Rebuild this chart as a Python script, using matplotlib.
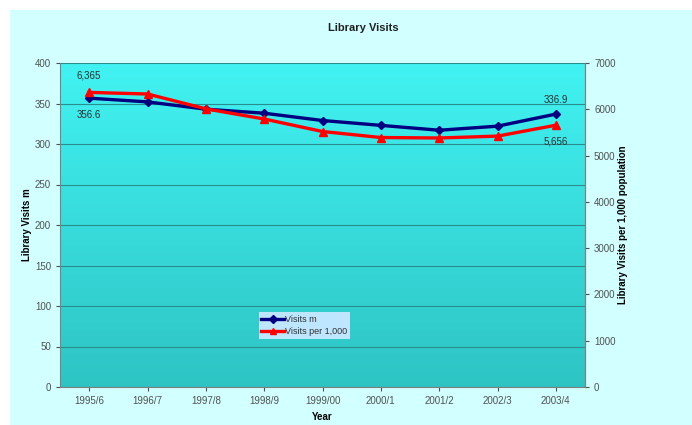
import matplotlib.pyplot as plt
import numpy as np
from matplotlib.patches import Rectangle

plt.rcParams['font.family'] = ['Liberation Sans', 'DejaVu Sans']

years = ["1995/6", "1996/7", "1997/8", "1998/9", "1999/00", "2000/1", "2001/2", "2002/3", "2003/4"]
visits_m = [356.6, 352, 343, 338, 329, 323, 317, 322, 336.9]
visits_per_1000 = [6365, 6330, 6010, 5790, 5520, 5390, 5380, 5420, 5656]

fig = plt.figure(figsize=(6.92, 4.25), dpi=100)
fig.patch.set_facecolor("white")
# pale cyan chart area
fig.patches.append(Rectangle((10 / 692, 0), 1, 1 - 10 / 425, transform=fig.transFigure,
                             facecolor="#D2FFFF", edgecolor="none", zorder=-5))

ax = fig.add_axes([60 / 692, 38 / 425, 525 / 692, 324 / 425])
x = np.arange(len(years))
ax.set_xlim(-0.5, len(years) - 0.5)
ax.set_ylim(0, 400)

# vertical gradient background
grad = np.linspace(0, 1, 256).reshape(-1, 1)
top = np.array([0x42, 0xF2, 0xF2]) / 255
bot = np.array([0x2E, 0xC4, 0xC4]) / 255
img = top + (bot - top) * grad[:, :, None]
ax.imshow(img, extent=[-0.5, len(years) - 0.5, 0, 400], aspect="auto", zorder=0)

ax.yaxis.grid(True, color="#2A8C8C", linewidth=0.8)
ax.set_axisbelow(True)
for s in ax.spines.values():
    s.set_color("#808080")
    s.set_linewidth(0.8)
ax.spines["top"].set_visible(False)

l1, = ax.plot(x, visits_m, color="#000080", marker="D", markersize=4.5, linewidth=2.4,
              label="Visits m", zorder=4)
ax.set_xticks(x)
ax.set_xticklabels(years)
ax.set_yticks(range(0, 401, 50))
ax.tick_params(labelsize=7, colors="#505050", length=3)
ax.set_xlabel("Year", fontsize=7, fontweight="bold", labelpad=4)
ax.set_ylabel("Library Visits m", fontsize=7, fontweight="bold", labelpad=2)

ax2 = ax.twinx()
ax2.set_ylim(0, 7000)
ax2.set_yticks(range(0, 7001, 1000))
l2, = ax2.plot(x, visits_per_1000, color="#FF0000", marker="^", markersize=5.5, linewidth=2.4,
               label="Visits per 1,000", zorder=3)
ax2.tick_params(labelsize=7, colors="#505050", length=3)
ax2.set_ylabel("Library Visits per 1,000 population", fontsize=7, fontweight="bold", labelpad=2)
for s in ax2.spines.values():
    s.set_visible(False)
ax2.spines["right"].set_visible(True)
ax2.spines["right"].set_color("#808080")

# end point labels
ax2.annotate(f"{visits_per_1000[0]:,}", (x[0], visits_per_1000[0]), xytext=(0, 10),
             textcoords="offset points", ha="center", fontsize=7, color="#303030")
ax.annotate(f"{visits_m[0]}", (x[0], visits_m[0]), xytext=(0, -14),
            textcoords="offset points", ha="center", fontsize=7, color="#303030")
ax.annotate(f"{visits_m[-1]}", (x[-1], visits_m[-1]), xytext=(0, 8),
            textcoords="offset points", ha="center", fontsize=7, color="#303030")
ax2.annotate(f"{visits_per_1000[-1]:,}", (x[-1], visits_per_1000[-1]), xytext=(0, -14),
             textcoords="offset points", ha="center", fontsize=7, color="#303030")

leg = ax2.legend(handles=[l1, l2], loc="center left", bbox_to_anchor=(0.37, 0.19),
                 fontsize=6.5, frameon=True, fancybox=False, handlelength=2.5,
                 handletextpad=0.1, borderpad=0.3, labelspacing=0.3, markerscale=0.8)
leg.get_frame().set_facecolor("#BFE6FF")
leg.get_frame().set_edgecolor("none")
leg.get_frame().set_alpha(1)
for t in leg.get_texts():
    t.set_color("#303030")

fig.text(363 / 692, 1 - 28 / 425, "Library Visits", ha="center", va="center",
         fontsize=8, fontweight="bold", color="#202020")

fig.savefig("out.png", dpi=100)
